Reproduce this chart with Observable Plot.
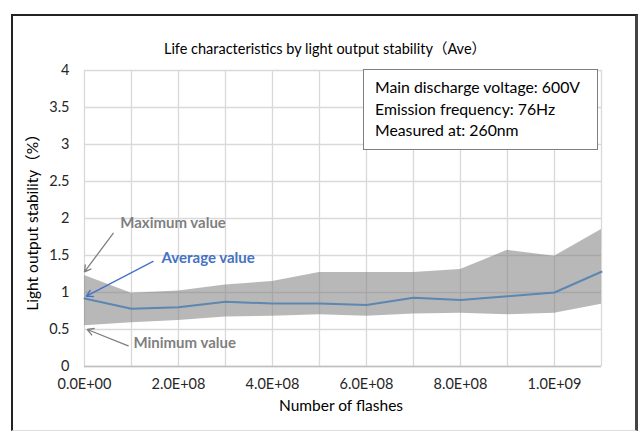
<!DOCTYPE html>
<html>
<head>
<meta charset="utf-8">
<script src="https://cdn.jsdelivr.net/npm/d3@7"></script>
<script src="https://cdn.jsdelivr.net/npm/@observablehq/plot@0.6"></script>
<style>
  html, body { margin: 0; padding: 0; background: #fff; }
  #wrap { position: relative; width: 641px; height: 431px; overflow: hidden; }
  #frame { position: absolute; left: 11px; top: 14px; width: 622px; height: 414px;
           border-top: 2px solid #222; border-left: 2px solid #222; border-right: 3px solid #444; border-bottom: 1px solid #ddd; pointer-events: none; }
  #info { position: absolute; left: 363px; top: 69px; width: 235px; height: 81px; background: #fff;
          border: 1px solid #7f7f7f; font-family: Lato, "Noto Sans", sans-serif; font-size: 15.8px; color: #000;
          box-sizing: border-box; padding: 6px 0 0 11px; line-height: 21.5px; }
</style>
</head>
<body>
<div id="wrap"><div id="chart"></div><div id="frame"></div><div id="info"></div></div>
<script>
// ---- data ----
const flashes   = [0, 1e8, 2e8, 3e8, 4e8, 5e8, 6e8, 7e8, 8e8, 9e8, 1e9, 1.1e9];
const maxValues = [1.23, 0.99, 1.02, 1.10, 1.15, 1.27, 1.27, 1.27, 1.31, 1.57, 1.49, 1.85];
const minValues = [0.55, 0.59, 0.62, 0.67, 0.68, 0.70, 0.68, 0.71, 0.72, 0.70, 0.72, 0.84];
const aveValues = [0.92, 0.78, 0.80, 0.875, 0.85, 0.85, 0.83, 0.93, 0.90, 0.95, 1.00, 1.28];

const xGrid = [0, 1e8, 2e8, 3e8, 4e8, 5e8, 6e8, 7e8, 8e8, 9e8, 1e9, 1.1e9];
const xTicks = [0, 2e8, 4e8, 6e8, 8e8, 1e9];
const xTickLabels = ["0.0E+00", "2.0E+08", "4.0E+08", "6.0E+08", "8.0E+08", "1.0E+09"];
const yTicks = [0, 0.5, 1, 1.5, 2, 2.5, 3, 3.5, 4];
const yTickLabels = ["0", "0.5", "1", "1.5", "2", "2.5", "3", "3.5", "4"];

const titleText = "Life characteristics by light output stability（Ave）";
const xLabel = "Number of flashes";
const yLabel = "Light output stability（%）";
const infoLines = ["Main discharge voltage: 600V", "Emission frequency: 76Hz", "Measured at: 260nm"];

// annotations
const noteLabels = ["Maximum value", "Average value", "Minimum value"];
const noteColors = ["#7f7f7f", "#4472c4", "#7f7f7f"];
const noteX = [0.76e8, 1.64e8, 1.04e8];
const noteY = [1.93, 1.47, 0.31];
const arrowFromX = [0.61e8, 1.46e8, 0.93e8];
const arrowFromY = [1.80, 1.42, 0.28];
const arrowToX = [0.0, 0.04e8, 0.06e8];
const arrowToY = [1.28, 0.95, 0.50];

// ---- build ----
const rows = flashes.map((x, i) => ({x, max: maxValues[i], min: minValues[i], ave: aveValues[i]}));
const notes = noteLabels.map((t, i) => ({t, c: noteColors[i], x: noteX[i], y: noteY[i],
  x1: arrowFromX[i], y1: arrowFromY[i], x2: arrowToX[i], y2: arrowToY[i]}));

const font = "Lato, 'Noto Sans CJK JP', sans-serif";

const chart = Plot.plot({
  width: 641, height: 431,
  marginLeft: 84, marginRight: 40, marginTop: 70, marginBottom: 65,
  x: {domain: [0, 1.1e9]},
  y: {domain: [0, 4]},
  style: {fontFamily: font, fontSize: "14px", color: "#262626", background: "white", overflow: "visible"},
  marks: [
    Plot.gridX(xGrid, {stroke: "#d9d9d9", strokeOpacity: 1, strokeWidth: 1.3}),
    Plot.gridY(yTicks, {stroke: "#d9d9d9", strokeOpacity: 1, strokeWidth: 1.3}),
    Plot.areaY(rows, {x: "x", y1: "min", y2: "max", fill: "#7f7d7e", fillOpacity: 0.55}),
    Plot.ruleY([0], {stroke: "#bfbfbf", strokeWidth: 1.3}),
    Plot.lineY(rows, {x: "x", y: "ave", stroke: "#5b87b1", strokeWidth: 2}),
    Plot.axisX(xTicks, {tickSize: 0, tickPadding: 12, label: null, fontSize: 14.5,
      tickFormat: d => xTickLabels[xTicks.indexOf(d)]}),
    Plot.axisY(yTicks, {tickSize: 0, tickPadding: 15, label: null, fontSize: 14.5,
      tickFormat: d => yTickLabels[yTicks.indexOf(d)]}),
    Plot.arrow(notes, {x1: "x1", y1: "y1", x2: "x2", y2: "y2", stroke: "c", strokeWidth: 1.3, headLength: 8}),
    Plot.text(notes, {x: "x", y: "y", text: "t", fill: "c", textAnchor: "start", fontSize: 15, fontWeight: "bold"}),
    Plot.text([titleText], {frameAnchor: "top", dx: -18, dy: -27, fontSize: 14.5, fill: "#000"}),
    Plot.text([xLabel], {frameAnchor: "bottom", dx: -2, dy: 44, fontSize: 15.5, fill: "#000"}),
    Plot.text([yLabel], {frameAnchor: "left", textAnchor: "middle", rotate: -90, dx: -51, fontSize: 15.5, fill: "#000"})
  ]
});
document.getElementById("chart").appendChild(chart);
document.getElementById("info").innerHTML = infoLines.map(s => `<div>${s}</div>`).join("");
</script>
</body>
</html>
